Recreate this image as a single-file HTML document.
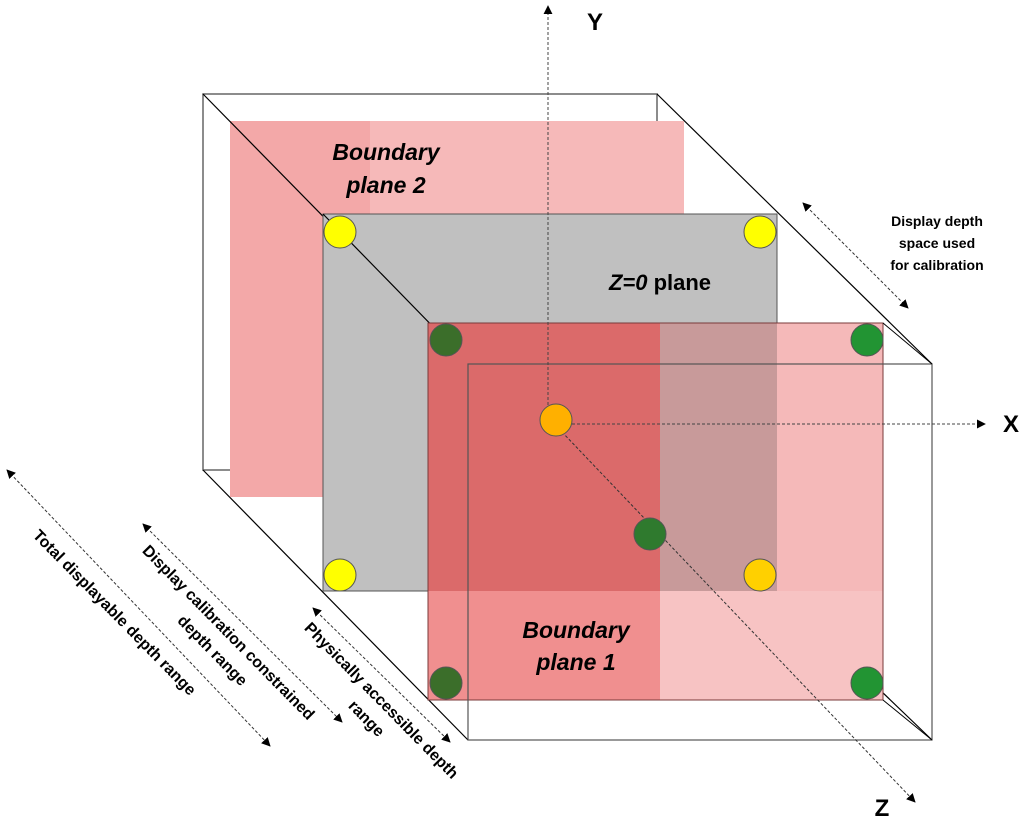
<!DOCTYPE html>
<html><head><meta charset="utf-8"><style>
html,body{margin:0;padding:0;background:#fff}
svg{display:block}
text{font-family:"Liberation Sans",Arial,sans-serif;font-weight:bold}
</style></head><body>
<svg width="1024" height="821" viewBox="0 0 1024 821" xmlns="http://www.w3.org/2000/svg">
<defs>
<marker id="ah" viewBox="0 0 10 10" refX="9" refY="5" markerWidth="9" markerHeight="9" orient="auto-start-reverse"><path d="M0,0 L10,5 L0,10 z" fill="#000"/></marker>
</defs>
<!-- back box face -->
<rect x="203" y="94" width="454" height="376" fill="none" stroke="#666" stroke-width="1.5"/>
<line x1="657" y1="94" x2="932" y2="364" stroke="#000" stroke-width="1.2"/>
<line x1="203" y1="470" x2="468" y2="740" stroke="#000" stroke-width="1.2"/>
<!-- boundary plane 2 -->
<rect x="230" y="121" width="454" height="376" fill="#f6b9b9"/>
<rect x="230" y="121" width="140" height="376" fill="#f3a8a8"/>
<line x1="203" y1="94" x2="468" y2="364" stroke="#000" stroke-width="1.2"/>
<!-- z=0 gray plane -->
<rect x="323" y="214" width="454" height="377" fill="#c0c0c0" stroke="#555" stroke-width="1"/>
<line x1="323" y1="214" x2="446" y2="340" stroke="#000" stroke-width="1.2"/>
<line x1="777" y1="591" x2="932" y2="740" stroke="#000" stroke-width="1.2"/>
<!-- boundary plane 1 -->
<rect x="428" y="323" width="232" height="268" fill="#db6a6a"/>
<rect x="660" y="323" width="117" height="268" fill="#c89a9a"/>
<rect x="777" y="323" width="106" height="268" fill="#f5b9b9"/>
<rect x="428" y="591" width="232" height="109" fill="#f08f8f"/>
<rect x="660" y="591" width="223" height="109" fill="#f7c3c3"/>
<rect x="428" y="323" width="455" height="377" fill="none" stroke="#7a3a3a" stroke-width="1"/>
<!-- front box face -->
<rect x="468" y="364" width="464" height="376" fill="none" stroke="#555" stroke-width="1.2"/>
<line x1="883" y1="323" x2="932" y2="364" stroke="#000" stroke-width="1"/>
<line x1="883" y1="700" x2="932" y2="740" stroke="#000" stroke-width="1"/>
<!-- axes -->
<line x1="548" y1="420" x2="548" y2="6" stroke="#444" stroke-width="1" stroke-dasharray="3,2" marker-end="url(#ah)"/>
<line x1="572" y1="424" x2="985" y2="424" stroke="#444" stroke-width="1" stroke-dasharray="3,2" marker-end="url(#ah)"/>
<line x1="562" y1="432" x2="915" y2="802" stroke="#333" stroke-width="1" stroke-dasharray="3,2" marker-end="url(#ah)"/>
<!-- circles -->
<g stroke="#555" stroke-width="1">
<circle cx="340" cy="232" r="16" fill="#ffff00"/>
<circle cx="760" cy="232" r="16" fill="#ffff00"/>
<circle cx="340" cy="575" r="16" fill="#ffff00"/>
<circle cx="760" cy="575" r="16" fill="#ffd000"/>
<circle cx="446" cy="340" r="16" fill="#3b6e2a"/>
<circle cx="867" cy="340" r="16" fill="#229433"/>
<circle cx="446" cy="683" r="16" fill="#3b6e2a"/>
<circle cx="867" cy="683" r="16" fill="#229433"/>
<circle cx="650" cy="534" r="16" fill="#2f7a2e"/>
<circle cx="556" cy="420" r="16" fill="#ffb000"/>
</g>
<!-- axis labels -->
<text x="595" y="30" font-size="24" text-anchor="middle">Y</text>
<text x="1011" y="432" font-size="24" text-anchor="middle">X</text>
<text x="882" y="816" font-size="24" text-anchor="middle">Z</text>
<!-- plane labels -->
<g font-size="23" font-style="italic" text-anchor="middle">
<text x="386" y="160">Boundary</text>
<text x="386" y="193">plane 2</text>
<text x="576" y="638">Boundary</text>
<text x="576" y="670">plane 1</text>
</g>
<text x="660" y="290" font-size="22" text-anchor="middle"><tspan font-style="italic">Z=0</tspan> plane</text>
<!-- right depth arrow -->
<line x1="803" y1="203" x2="908" y2="308" stroke="#333" stroke-width="1" stroke-dasharray="3,2" marker-start="url(#ah)" marker-end="url(#ah)"/>
<g font-size="14" text-anchor="middle">
<text x="937" y="226">Display depth</text>
<text x="937" y="248">space used</text>
<text x="937" y="270">for calibration</text>
</g>
<!-- left arrows -->
<g stroke="#333" stroke-width="1" stroke-dasharray="3,2">
<line x1="7" y1="470" x2="270" y2="746" marker-start="url(#ah)" marker-end="url(#ah)"/>
<line x1="143" y1="524" x2="342" y2="722" marker-start="url(#ah)" marker-end="url(#ah)"/>
<line x1="313" y1="608" x2="450" y2="742" marker-start="url(#ah)" marker-end="url(#ah)"/>
</g>
<g font-size="16" text-anchor="middle">
<text transform="translate(115,612) rotate(45.5)" dy="6">Total displayable depth range</text>
<text transform="translate(229,632) rotate(45.5)" dy="6">Display calibration constrained</text>
<text transform="translate(213,650) rotate(45.5)" dy="6">depth range</text>
<text transform="translate(382,700) rotate(45.5)" dy="6">Physically accessible depth</text>
<text transform="translate(367,718) rotate(45.5)" dy="6">range</text>
</g>
</svg>
</body></html>
